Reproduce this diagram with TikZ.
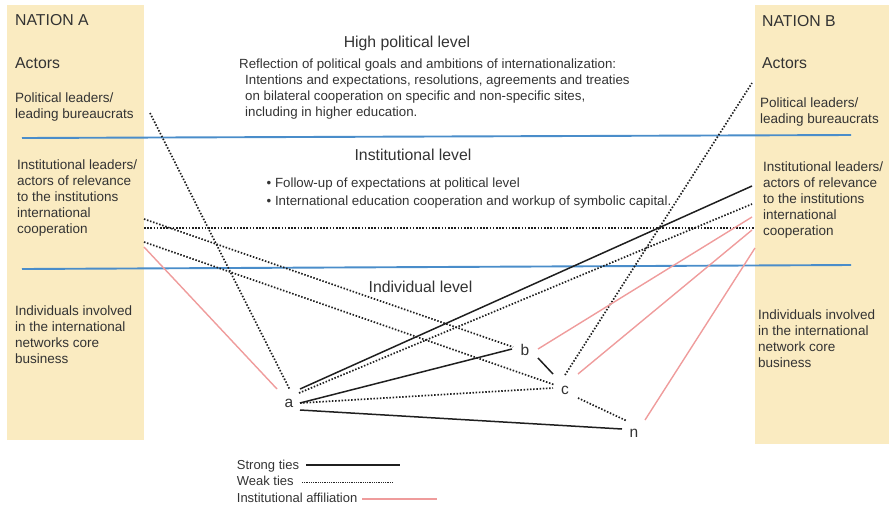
\documentclass[tikz,border=0pt]{standalone}
\usepackage{fontspec}
\setmainfont{Liberation Sans}
\definecolor{panelc}{HTML}{FAEBC1}
\definecolor{bluec}{HTML}{4A8DCA}
\definecolor{pinkc}{HTML}{EF9C9C}
\definecolor{txtc}{HTML}{333333}
\begin{document}
\begin{tikzpicture}[x=1pt,y=-1pt,
  panel/.style={fill=panelc,draw=none},
  levelline/.style={line width=1.9pt,draw=bluec},
  strong/.style={line width=1.5pt,draw=black!88},
  weak/.style={line width=1.7pt,draw=black!88,dash pattern=on 1.5pt off 1.7pt},
  weakleg/.style={line width=1pt,draw=black!85,dash pattern=on 0.9pt off 0.9pt},
  affil/.style={line width=1.4pt,draw=pinkc},
  big/.style={anchor=base west,inner sep=0,text=txtc,font=\fontsize{15.8}{18}\selectfont},
  side/.style={anchor=base west,inner sep=0,text=txtc,font=\fontsize{13.5}{16}\selectfont},
  body/.style={anchor=base west,inner sep=0,text=txtc,font=\fontsize{13.3}{16}\selectfont},
  head/.style={anchor=base,inner sep=0,text=txtc,font=\fontsize{15.8}{18}\selectfont},
  actor/.style={anchor=base,inner sep=0,text=txtc,font=\fontsize{15.5}{18}\selectfont},
  legtext/.style={anchor=base west,inner sep=0,text=txtc,font=\fontsize{13}{16}\selectfont}]
\useasboundingbox (0,0) rectangle (889,507);
% panels
\path[panel] (7,5) rectangle (144,440);
\path[panel] (755,5) rectangle (889,444);
% level lines
\coordinate (L1w) at (22,138); \coordinate (L1e) at (851,135);
\coordinate (L2w) at (22,269); \coordinate (L2e) at (851,265);
\draw[levelline] (L1w) -- (L1e);
\draw[levelline] (L2w) -- (L2e);
% actors
\node[actor] (a) at (289,407) {a};
\node[actor] (b) at (525,355) {b};
\node[actor] (c) at (565,394) {c};
\node[actor] (n) at (634,437) {n};
% endpoints
\coordinate (aS1) at (300,389); \coordinate (aS2) at (300,403); \coordinate (aS3) at (300,410);
\coordinate (aW1) at (299,393); \coordinate (aW2) at (300,403); \coordinate (aW3) at (290,390);
\coordinate (aP) at (277,389);
\coordinate (bS) at (512,349); \coordinate (bS2) at (538,358); \coordinate (bW) at (513,347); \coordinate (bP) at (538,349);
\coordinate (cS) at (553,374); \coordinate (cW1) at (555,385); \coordinate (cW2) at (553,388);
\coordinate (cW3) at (565,375); \coordinate (cW4) at (578,398); \coordinate (cP) at (578,374);
\coordinate (nS) at (622,429); \coordinate (nW) at (627,421); \coordinate (nP) at (645,420);
\coordinate (Apol) at (150,113); \coordinate (Ainst1) at (144,219); \coordinate (Ainst2) at (144,242);
\coordinate (Ainst3) at (144,228); \coordinate (Ainst4) at (144,247);
\coordinate (Bpol) at (752,83); \coordinate (Binst1) at (752,186); \coordinate (Binst2) at (752,204);
\coordinate (Binst3) at (755,228); \coordinate (Binst4) at (752,217); \coordinate (Binst5) at (752,230);
\coordinate (Binst6) at (755,248);
% strong ties
\draw[strong] (aS1) -- (Binst1);
\draw[strong] (aS2) -- (bS);
\draw[strong] (aS3) -- (nS);
\draw[strong] (bS2) -- (cS);
% weak ties
\draw[weak] (Apol) -- (aW3);
\draw[weak] (Ainst1) -- (bW);
\draw[weak] (Ainst2) -- (cW1);
\draw[weak] (Ainst3) -- (Binst3);
\draw[weak] (aW1) -- (Binst2);
\draw[weak] (aW2) -- (cW2);
\draw[weak] (cW3) -- (Bpol);
\draw[weak] (cW4) -- (nW);
% institutional affiliation
\draw[affil] (Ainst4) -- (aP);
\draw[affil] (bP) -- (Binst4);
\draw[affil] (cP) -- (Binst5);
\draw[affil] (nP) -- (Binst6);
% Nation A texts
\node[big] (natA) at (15,25) {NATION A};
\node[big] (actA) at (15,68) {Actors};
\foreach \t [count=\i from 0] in {{Political leaders/},{leading bureaucrats}}
  \node[side] (polA\i) at (15,102+16*\i) {\t};
\foreach \t [count=\i from 0] in {{Institutional leaders/},{actors of relevance},{to the institutions},{international},{cooperation}}
  \node[side] (instA\i) at (17,169+16*\i) {\t};
\foreach \t [count=\i from 0] in {{Individuals involved},{in the international},{networks core},{business}}
  \node[side] (indA\i) at (15,315.5+16*\i) {\t};
% Nation B texts
\node[big] (natB) at (762,26) {NATION B};
\node[big] (actB) at (762,68) {Actors};
\foreach \t [count=\i from 0] in {{Political leaders/},{leading bureaucrats}}
  \node[side] (polB\i) at (760,107+16*\i) {\t};
\foreach \t [count=\i from 0] in {{Institutional leaders/},{actors of relevance},{to the institutions},{international},{cooperation}}
  \node[side] (instB\i) at (763,171+16*\i) {\t};
\foreach \t [count=\i from 0] in {{Individuals involved},{in the international},{network core},{business}}
  \node[side] (indB\i) at (758,319+16*\i) {\t};
% level texts
\node[head] (hpl) at (407,47.3) {High political level};
\node[body] (refl) at (239,68.3) {Reflection of political goals and ambitions of internationalization:};
\foreach \t [count=\i from 0] in {{Intentions and expectations, resolutions, agreements and treaties},{on bilateral cooperation on specific and non-specific sites,},{including in higher education.}}
  \node[body] (hplt\i) at (245,84.3+16*\i) {\t};
\node[head] (inl) at (413,160.7) {Institutional level};
\node[body] (fol) at (266.5,187.7) {\textbullet\ Follow-up of expectations at political level};
\node[body] (iec) at (266.5,205) {\textbullet\ International education cooperation and workup of symbolic capital.};
\node[head] (idl) at (420.5,292.7) {Individual level};
% legend
\node[legtext] (lgs) at (236.7,469.3) {Strong ties};
\node[legtext] (lgw) at (236.7,485.7) {Weak ties};
\node[legtext] (lga) at (236.7,502) {Institutional affiliation};
\coordinate (lgs1) at (306,465); \coordinate (lgs2) at (400,465);
\coordinate (lgw1) at (302,482.3); \coordinate (lgw2) at (393,482.3);
\coordinate (lga1) at (362,499); \coordinate (lga2) at (437,499);
\draw[strong] (lgs1) -- (lgs2);
\draw[weakleg] (lgw1) -- (lgw2);
\draw[affil] (lga1) -- (lga2);
\end{tikzpicture}
\end{document}
